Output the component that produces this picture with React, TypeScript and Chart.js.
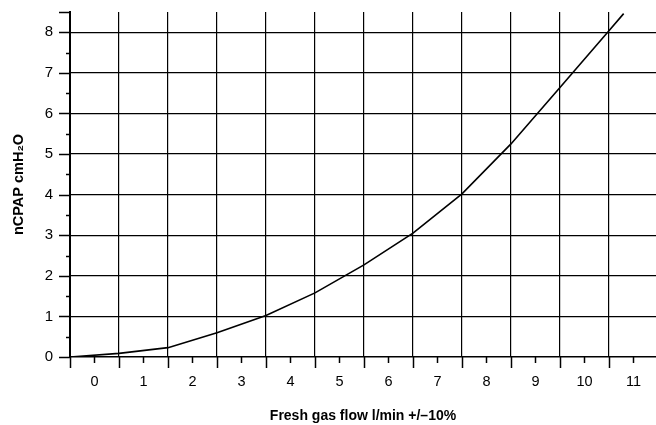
import React, { useEffect, useRef } from "react";
import { Chart, registerables } from "chart.js";

Chart.register(...registerables);

const flowValues = [-0.5, 0.5, 1.5, 2.5, 3.5, 4.5, 5.5, 6.5, 7.5, 8.5, 9.5, 10.5, 10.8];
const pressureValues = [0, 0.09, 0.23, 0.6, 1.02, 1.58, 2.27, 3.05, 4.02, 5.25, 6.64, 8.04, 8.46];
const xTickLabels = ["0", "1", "2", "3", "4", "5", "6", "7", "8", "9", "10", "11"];
const yTickLabels = ["0", "1", "2", "3", "4", "5", "6", "7", "8"];

const FONT = "'Liberation Sans', 'DejaVu Sans', sans-serif";

const isInt = (v: number) => Math.abs(v - Math.round(v)) < 1e-6;
const isHalf = (v: number) => Math.abs(v * 2 - Math.round(v * 2)) < 1e-6 && !isInt(v);

const tickPlugin = {
  id: "customTicks",
  afterDraw(chart: any) {
    const ctx = chart.ctx;
    const xs = chart.scales.x;
    const ys = chart.scales.y;
    const area = chart.chartArea;
    ctx.save();
    ctx.strokeStyle = "#000";
    ctx.lineWidth = 1.5;
    xs.ticks.forEach((t: any) => {
      const v = t.value;
      if (!isInt(v) && !isHalf(v)) return;
      const px = Math.round(xs.getPixelForValue(v)) + 0.5;
      const len = isHalf(v) ? 11 : 6;
      ctx.beginPath();
      ctx.moveTo(px, area.bottom);
      ctx.lineTo(px, area.bottom + len);
      ctx.stroke();
    });
    ys.ticks.forEach((t: any) => {
      const v = t.value;
      if (!isInt(v) && !isHalf(v)) return;
      const py = Math.round(ys.getPixelForValue(v)) + 0.5;
      const len = isInt(v) || v >= ys.max - 1e-6 ? 11 : 4;
      ctx.beginPath();
      ctx.moveTo(area.left, py);
      ctx.lineTo(area.left - len, py);
      ctx.stroke();
    });
    ctx.restore();
  },
};

export default function App() {
  const ref = useRef<HTMLCanvasElement | null>(null);
  useEffect(() => {
    if (!ref.current) return;
    const chart = new Chart(ref.current, {
      type: "line",
      data: {
        datasets: [
          {
            data: flowValues.map((x, i) => ({ x, y: pressureValues[i] })),
            borderColor: "#000",
            borderWidth: 1.6,
            pointRadius: 0,
            tension: 0,
            fill: false,
          },
        ],
      },
      options: {
        animation: false,
        responsive: false,
        maintainAspectRatio: false,
        layout: { padding: { top: 12, right: 0, left: 0, bottom: 0 } },
        plugins: { legend: { display: false }, tooltip: { enabled: false } },
        scales: {
          x: {
            type: "linear",
            min: -0.5,
            max: 11.46,
            afterFit: (s: any) => {
              s.height = 68;
              s.paddingLeft = 0;
              s.paddingRight = 0;
            },
            afterBuildTicks: (s: any) => {
              const arr: any[] = [];
              for (let v = -0.5; v <= 11.46; v += 0.5) arr.push({ value: Math.round(v * 2) / 2 });
              s.ticks = arr;
            },
            ticks: {
              autoSkip: false,
              maxRotation: 0,
              padding: 16,
              color: "#000",
              font: { family: FONT, size: 14.5 },
              callback: (v: any) => {
                const n = Number(v);
                if (!isInt(n)) return "";
                const i = Math.round(n);
                return xTickLabels[i] ?? "";
              },
            },
            grid: {
              drawTicks: false,
              lineWidth: 1.2,
              color: (c: any) => (c.tick && isHalf(c.tick.value) ? "#000" : "rgba(0,0,0,0)"),
            },
            border: { display: true, color: "#000", width: 1.5 },
            title: {
              display: true,
              text: "Fresh gas flow l/min +/–10%",
              color: "#000",
              font: { family: FONT, size: 14, weight: "bold" },
              padding: { top: 10, bottom: 0 },
            },
          },
          y: {
            type: "linear",
            min: 0,
            max: 8.5,
            afterFit: (s: any) => {
              s.width = 70;
              s.paddingTop = 0;
              s.paddingBottom = 0;
            },
            afterBuildTicks: (s: any) => {
              const arr: any[] = [];
              for (let v = 0; v <= 8.5; v += 0.5) arr.push({ value: Math.round(v * 2) / 2 });
              s.ticks = arr;
            },
            ticks: {
              autoSkip: false,
              padding: 17,
              color: "#000",
              font: { family: FONT, size: 15 },
              callback: (v: any) => {
                const n = Number(v);
                if (!isInt(n)) return "";
                return yTickLabels[Math.round(n)] ?? "";
              },
            },
            grid: {
              drawTicks: false,
              lineWidth: 1.2,
              color: (c: any) => (c.tick && isInt(c.tick.value) && c.tick.value > 0 ? "#000" : "rgba(0,0,0,0)"),
            },
            border: { display: true, color: "#000", width: 2 },
            title: {
              display: true,
              text: "nCPAP cmH₂O",
              color: "#000",
              font: { family: FONT, size: 14.5, weight: "bold" },
              padding: { top: 10, bottom: 2 },
            },
          },
        },
      },
      plugins: [tickPlugin],
    } as any);
    return () => chart.destroy();
  }, []);
  return (
    <div style={{ position: "absolute", left: 0, top: 0, width: 656, height: 425, background: "#fff" }}>
      <canvas ref={ref} width={656} height={425} style={{ display: "block" }} />
    </div>
  );
}
